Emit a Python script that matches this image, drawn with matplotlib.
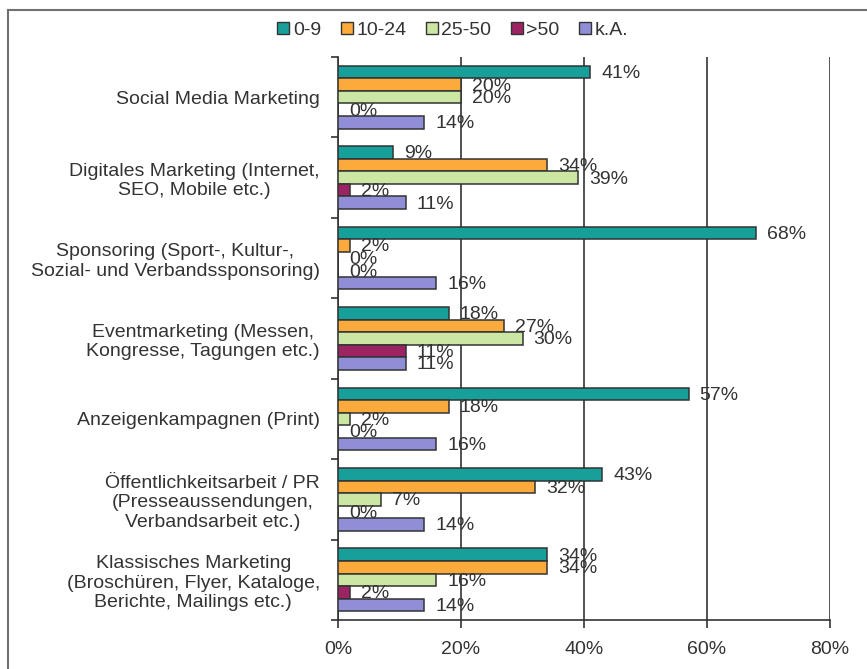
import matplotlib.pyplot as plt
import numpy as np
from matplotlib.lines import Line2D

plt.rcParams['font.family'] = ['Liberation Sans', 'DejaVu Sans']

# data
categories = ['Social Media Marketing',
              'Digitales Marketing (Internet,\nSEO, Mobile etc.)',
              'Sponsoring (Sport-, Kultur-,\nSozial- und Verbandssponsoring)',
              'Eventmarketing (Messen,\nKongresse, Tagungen etc.)',
              'Anzeigenkampagnen (Print)',
              'Öffentlichkeitsarbeit / PR\n(Presseaussendungen,\nVerbandsarbeit etc.)',
              'Klassisches Marketing\n(Broschüren, Flyer, Kataloge,\nBerichte, Mailings etc.)']
series_names = ['0-9', '10-24', '25-50', '>50', 'k.A.']
v_0_9 = [41, 9, 68, 18, 57, 43, 34]
v_10_24 = [20, 34, 2, 27, 18, 32, 34]
v_25_50 = [20, 39, 0, 30, 2, 7, 16]
v_gt50 = [0, 2, 0, 11, 0, 0, 2]
v_ka = [14, 11, 16, 11, 16, 14, 14]
xticks = [0, 20, 40, 60, 80]

series = [v_0_9, v_10_24, v_25_50, v_gt50, v_ka]
colors = ['#17A09A', '#FBAA3C', '#CCE6A4', '#9C2462', '#8F8ED6']
edge = '#333333'
txt = '#333333'
fs = 14

fig = plt.figure(figsize=(8.67, 6.69), dpi=100)
ax = fig.add_axes([338/867, 1-620/669, (830-338)/867, (620-57)/669])

h = 0.156
y = np.arange(len(categories))
for j, (vals, c) in enumerate(zip(series, colors)):
    pos = y - 2.5*h + (j + 0.5)*h
    ax.barh(pos, vals, height=h, color=c, edgecolor=edge, linewidth=1.1, zorder=3)
    for p, v in zip(pos, vals):
        ax.annotate(f'{v}%', (v, p), xytext=(8, -1), textcoords='offset points',
                    ha='left', va='center', fontsize=fs, color=txt, zorder=4)

ax.set_xlim(0, 80)
ax.set_ylim(len(categories) - 0.5, -0.5)
ax.set_xticks(xticks)
ax.set_xticklabels([f'{t}%' for t in xticks], fontsize=fs, color=txt)
ax.set_yticks(y)
ax.set_yticklabels(categories, fontsize=fs, color=txt, multialignment='center')
ax.set_yticks(np.arange(len(categories) + 1) - 0.5, minor=True)
ax.tick_params(axis='y', which='major', length=0, pad=13)
ax.tick_params(axis='y', which='minor', length=5, width=1.2, color='#333333')
ax.tick_params(axis='x', length=6, width=1.2, color='#333333', pad=9)
ax.grid(axis='x', color='#333333', linewidth=1.2, zorder=0)
for s in ['top', 'right']:
    ax.spines[s].set_visible(False)
for s in ['left', 'bottom']:
    ax.spines[s].set_color('#333333')
    ax.spines[s].set_linewidth(1.2)

handles = [Line2D([], [], marker='s', linestyle='none', markersize=8,
                  markerfacecolor=c, markeredgecolor=edge, markeredgewidth=1.0)
           for c in colors]
leg = fig.legend(handles, series_names, loc='center', ncol=5,
                 bbox_to_anchor=(452/867, 1-30/669), frameon=False,
                 fontsize=fs, handlelength=0.8, handletextpad=0.1,
                 columnspacing=0.9)
for t in leg.get_texts():
    t.set_color(txt)

# outer frame of the scanned figure
fig.add_artist(Line2D([8/867, 8/867], [0, 1-10/669], transform=fig.transFigure,
                      color='#707070', linewidth=1.5))
fig.add_artist(Line2D([8/867, 1], [1-10/669, 1-10/669], transform=fig.transFigure,
                      color='#707070', linewidth=1.5))

fig.savefig('out.png', dpi=100)
